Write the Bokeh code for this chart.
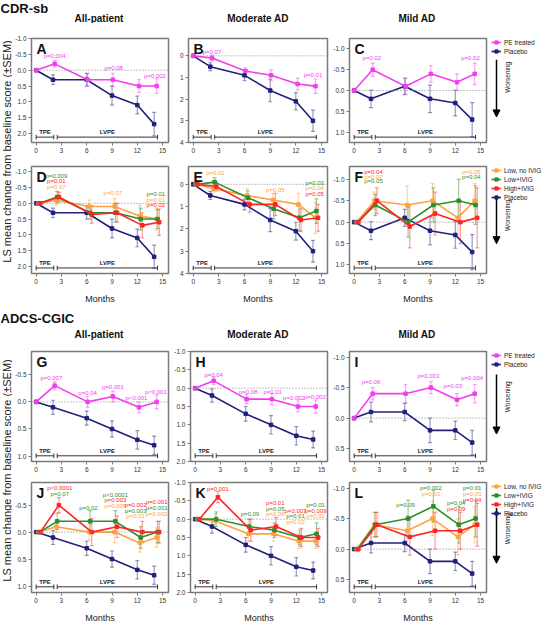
import math
from bokeh.plotting import figure
from bokeh.models import (Range1d, Span, Label, Whisker, TeeHead, ColumnDataSource,
                          FixedTicker, PrintfTickFormatter, Legend, LegendItem, Arrow, NormalHead)
from bokeh.layouts import row, column
from bokeh.embed import file_html
from bokeh.resources import INLINE

# ---------------- data ----------------
months_plc = [0, 2, 6, 9, 12, 14]
months_pe = [0, 2.2, 6.1, 9.1, 12.2, 14.3]
months_lo = [0.3, 2.4, 6.3, 9.3, 12.3, 14.3]
months_li = [0.4, 2.5, 6.4, 9.4, 12.4, 14.4]
months_hi = [0.5, 2.7, 6.6, 9.6, 12.6, 14.6]

# CDR-sb
cdr_all_plc = [0, 0.3, 0.3, 0.8, 1.1, 1.7]
cdr_all_plc_se = [0, 0.15, 0.2, 0.3, 0.28, 0.37]
cdr_all_pe = [0, -0.2, 0.3, 0.3, 0.5, 0.5]
cdr_all_pe_se = [0, 0.1, 0.2, 0.2, 0.2, 0.23]
cdr_all_lo = [0, -0.1, 0.1, 0.1, 0.4, 0.5]
cdr_all_lo_se = [0, 0.15, 0.2, 0.25, 0.35, 0.35]
cdr_all_li = [0, -0.2, 0.3, 0.3, 0.5, 0.5]
cdr_all_li_se = [0, 0.18, 0.2, 0.3, 0.35, 0.3]
cdr_all_hi = [0, -0.2, 0.35, 0.3, 0.7, 0.6]
cdr_all_hi_se = [0, 0.15, 0.28, 0.3, 0.4, 0.42]

cdr_mod_plc = [0, 0.5, 0.9, 1.6, 2.1, 3.0]
cdr_mod_plc_se = [0, 0.18, 0.25, 0.52, 0.4, 0.49]
cdr_mod_pe = [0, 0.1, 0.7, 0.9, 1.3, 1.4]
cdr_mod_pe_se = [0, 0.12, 0.15, 0.25, 0.27, 0.33]
cdr_mod_lo = [0, 0.2, 0.5, 0.7, 0.9, 1.5]
cdr_mod_lo_se = [0, 0.15, 0.3, 0.3, 0.5, 0.7]
cdr_mod_li = [0, -0.1, 0.6, 1.1, 1.5, 1.2]
cdr_mod_li_se = [0, 0.2, 0.3, 0.45, 0.6, 0.55]
cdr_mod_hi = [0, 0.1, 0.9, 0.9, 1.6, 1.5]
cdr_mod_hi_se = [0, 0.2, 0.35, 0.5, 0.5, 0.6]

cdr_mild_plc = [0, 0.2, -0.1, 0.2, 0.3, 0.7]
cdr_mild_plc_se = [0, 0.21, 0.2, 0.33, 0.31, 0.41]
cdr_mild_pe = [0, -0.5, -0.1, -0.4, -0.2, -0.4]
cdr_mild_pe_se = [0, 0.16, 0.19, 0.2, 0.2, 0.26]
cdr_mild_lo = [0, -0.5, -0.4, -0.5, -0.1, -0.5]
cdr_mild_lo_se = [0, 0.2, 0.45, 0.4, 0.4, 0.4]
cdr_mild_li = [0, -0.4, 0.0, -0.4, -0.5, -0.4]
cdr_mild_li_se = [0, 0.25, 0.35, 0.4, 0.5, 0.45]
cdr_mild_hi = [0, -0.5, 0.1, -0.2, 0.0, -0.1]
cdr_mild_hi_se = [0, 0.3, 0.5, 0.5, 0.5, 0.7]

# ADCS-CGIC
cgic_all_plc = [0, 0.1, 0.3, 0.5, 0.7, 0.8]
cgic_all_plc_se = [0, 0.13, 0.13, 0.15, 0.17, 0.17]
cgic_all_pe = [0, -0.3, 0.0, -0.1, 0.1, 0.0]
cgic_all_pe_se = [0, 0.07, 0.1, 0.1, 0.1, 0.13]
cgic_all_lo = [0, -0.1, 0.0, 0.0, 0.2, 0.1]
cgic_all_lo_se = [0, 0.1, 0.15, 0.2, 0.17, 0.18]
cgic_all_li = [0, -0.2, -0.2, -0.2, 0.1, 0.0]
cgic_all_li_se = [0, 0.15, 0.2, 0.2, 0.2, 0.2]
cgic_all_hi = [0, -0.5, 0.0, -0.1, 0.0, 0.0]
cgic_all_hi_se = [0, 0.14, 0.25, 0.2, 0.2, 0.2]

cgic_mod_plc = [0, 0.2, 0.7, 1.0, 1.3, 1.4]
cgic_mod_plc_se = [0, 0.18, 0.2, 0.25, 0.25, 0.23]
cgic_mod_pe = [0, -0.2, 0.3, 0.3, 0.5, 0.5]
cgic_mod_pe_se = [0, 0.1, 0.13, 0.15, 0.15, 0.18]
cgic_mod_lo = [0, 0.05, 0.4, 0.4, 0.6, 0.6]
cgic_mod_lo_se = [0, 0.2, 0.2, 0.2, 0.2, 0.2]
cgic_mod_li = [0, 0.0, 0.2, 0.3, 0.5, 0.4]
cgic_mod_li_se = [0, 0.2, 0.2, 0.2, 0.2, 0.3]
cgic_mod_hi = [0, -0.6, 0.3, 0.2, 0.5, 0.5]
cgic_mod_hi_se = [0, 0.15, 0.3, 0.25, 0.25, 0.25]

cgic_mild_plc = [0, -0.1, -0.1, 0.2, 0.2, 0.4]
cgic_mild_plc_se = [0, 0.16, 0.14, 0.2, 0.15, 0.2]
cgic_mild_pe = [0, -0.4, -0.4, -0.5, -0.3, -0.4]
cgic_mild_pe_se = [0, 0.1, 0.15, 0.1, 0.1, 0.15]
cgic_mild_lo = [0, -0.4, -0.3, -0.5, -0.2, -0.4]
cgic_mild_lo_se = [0, 0.2, 0.25, 0.28, 0.3, 0.3]
cgic_mild_li = [0, -0.4, -0.5, -0.7, -0.4, -0.5]
cgic_mild_li_se = [0, 0.2, 0.3, 0.26, 0.3, 0.3]
cgic_mild_hi = [0, -0.4, -0.2, -0.3, -0.3, -0.4]
cgic_mild_hi_se = [0, 0.2, 0.3, 0.3, 0.3, 0.35]

x_ticks = [0, 3, 6, 9, 12, 15]
period_names = ["TPE", "LVPE"]
period_start = [0, 2.5]
period_end = [2.1, 14.4]

group_names = {"pe": "PE treated", "plc": "Placebo", "lo": "Low, no IVIG",
               "li": "Low+IVIG", "hi": "High+IVIG"}

# p-value annotations: (month, value, text, group)
pv_A = [(2.2, -0.45, "p=0.004", "pe"), (9.2, -0.08, "p=0.08", "pe"), (14.1, 0.17, "p=0.002", "pe")]
pv_B = [(2.2, -0.2, "p=0.07", "pe"), (14.0, 0.9, "p=0.01", "pe")]
pv_C = [(2.1, -0.78, "p=0.02", "pe"), (13.8, -0.78, "p=0.02", "pe")]
pv_D = [(2.4, -0.86, "p=0.009", "li"), (2.4, -0.7, "p=0.01", "hi"), (2.4, -0.53, "p=0.07", "lo"),
        (9.1, -0.34, "p=0.07", "lo"), (14.2, -0.29, "p=0.01", "li"), (14.2, -0.12, "p=0.01", "lo"),
        (14.2, 0.06, "p=0.02", "hi")]
pv_E = [(2.6, -0.5, "p=0.02", "lo"), (9.6, 0.27, "p=0.05", "lo"), (14.2, -0.07, "p=0.03", "li"),
        (14.2, 0.17, "p=0.04", "lo"), (14.2, 0.42, "p=0.05", "hi")]
pv_F = [(2.3, -1.17, "p=0.04", "hi"), (2.3, -1.06, "p=0.07", "lo"), (2.3, -0.95, "p=0.05", "li"),
        (13.9, -1.17, "p=0.05", "lo"), (13.9, -1.05, "p=0.04", "li")]
pv_G = [(1.8, -0.44, "p=0.007", "pe"), (6.1, -0.16, "p=0.04", "pe"), (9.1, -0.27, "p=0.001", "pe"),
        (11.9, -0.07, "p<0.001", "pe"), (14.2, -0.18, "p<0.001", "pe")]
pv_H = [(2.2, -0.37, "p=0.04", "pe"), (6.3, 0.1, "p=0.08", "pe"), (9.2, 0.1, "p=0.01", "pe"),
        (11.7, 0.27, "p=0.002", "pe"), (14.2, 0.23, "p=0.002", "pe")]
pv_I = [(2.0, -0.59, "p=0.06", "pe"), (8.8, -0.69, "p=0.003", "pe"), (11.7, -0.53, "p=0.03", "pe"),
        (14.0, -0.65, "p=0.004", "pe")]
pv_J = [(2.8, -0.82, "p<0.0001", "hi"), (2.8, -0.7, "p=0.07", "li"), (6.2, -0.45, "p=0.02", "li"),
        (9.4, -0.69, "p<0.0001", "li"), (9.4, -0.59, "p=0.003", "hi"), (9.4, -0.48, "p=0.005", "lo"),
        (11.8, -0.5, "p=0.002", "hi"), (11.8, -0.4, "p=0.003", "li"), (11.8, -0.3, "p=0.01", "lo"),
        (14.3, -0.56, "p=0.001", "hi"), (14.3, -0.45, "p=0.001", "li"), (14.3, -0.34, "p=0.002", "lo")]
pv_K = [(2.7, -0.83, "p=0.001", "hi"), (6.5, -0.15, "p=0.09", "li"), (9.5, -0.45, "p=0.01", "hi"),
        (9.5, -0.29, "p=0.05", "li"), (9.5, -0.13, "p=0.06", "lo"), (11.9, -0.23, "p=0.007", "hi"),
        (11.9, -0.08, "p=0.01", "li"), (11.9, 0.07, "p=0.02", "lo"), (14.3, -0.39, "p=0.01", "li"),
        (14.3, -0.23, "p=0.009", "hi"), (14.3, -0.08, "p=0.02", "lo")]
pv_L = [(6.1, -0.73, "p=0.09", "li"), (9.1, -1.0, "p=0.002", "li"), (9.1, -0.9, "p=0.03", "lo"),
        (12.1, -0.75, "p=0.04", "li"), (12.1, -0.66, "p=0.09", "hi"), (14.0, -1.0, "p=0.01", "li"),
        (14.0, -0.9, "p=0.03", "lo"), (14.0, -0.81, "p=0.04", "hi")]

# ---------------- style / layout ----------------
FONT = "Liberation Sans"
COLORS = {"pe": "#f43cee", "plc": "#20207c", "lo": "#ffa23e", "li": "#2a8f2a", "hi": "#ff2323"}
FRAME_C = "#7a7a7a"
YLW = 12          # y-label strip
BL, BR = 17, 3
FW = 139
PW = BL + FW + BR
LW = 544 - YLW - 3 * PW
FH = 116
BT1, BB1 = 3, 14
BT2, BB2 = 4, 30
H1 = BT1 + FH + BB1
H2 = BT2 + FH + BB2
HEAD1, HEAD2 = 23, 36
XMIN, XMAX = -0.55, 15.7
NAN = float("nan")


def blank(w, h, **kw):
    f = figure(width=w, height=h, x_range=Range1d(0, w), y_range=Range1d(0, h),
               x_axis_type=None, y_axis_type=None, toolbar_location=None,
               output_backend="svg", min_border=0, **kw)
    f.grid.visible = False
    f.outline_line_color = None
    return f


def panel(letter, ylim, yticks, yfmt, series, pvals, second):
    top_v, bot_v = ylim
    bt, bb = (BT2, BB2) if second else (BT1, BB1)
    p = figure(width=PW, height=bt + FH + bb, x_range=Range1d(XMIN, XMAX),
               y_range=Range1d(bot_v, top_v), toolbar_location=None, output_backend="svg",
               min_border_left=BL, min_border_right=BR, min_border_top=bt, min_border_bottom=bb)
    p.grid.visible = False
    p.outline_line_color = FRAME_C
    p.outline_line_width = 1.5
    ppx = FW / (XMAX - XMIN)
    ppy = FH / (bot_v - top_v)
    p.xaxis.ticker = FixedTicker(ticks=x_ticks)
    p.yaxis.ticker = FixedTicker(ticks=yticks)
    p.yaxis.formatter = PrintfTickFormatter(format=yfmt)
    for ax in (p.xaxis[0], p.yaxis[0]):
        ax.axis_line_color = FRAME_C
        ax.axis_line_width = 1
        ax.major_tick_line_color = FRAME_C
        ax.major_tick_out = 3
        ax.major_tick_in = 0
        ax.minor_tick_line_color = None
        ax.major_label_text_font = FONT
        ax.major_label_text_font_size = "6.5px"
        ax.major_label_text_color = "#333333"
        ax.major_label_standoff = 2
    if second:
        p.xaxis.axis_label = "Months"
        p.xaxis.axis_label_text_font = FONT
        p.xaxis.axis_label_text_font_size = "9px"
        p.xaxis.axis_label_text_font_style = "normal"
        p.xaxis.axis_label_text_color = "#222222"
        p.xaxis.axis_label_standoff = 7
    p.add_layout(Span(location=0, dimension="width", line_color="#888888",
                      line_dash="1 2", line_width=1))
    # treatment period brackets
    yb = bot_v - 6 / ppy
    tk = 2.5 / ppy
    for name, a, b in zip(period_names, period_start, period_end):
        p.segment(x0=[a, a, b], y0=[yb, yb - tk, yb - tk], x1=[b, a, b], y1=[yb, yb + tk, yb + tk],
                  line_color="#333333", line_width=1)
        p.add_layout(Label(x=(a + b) / 2, y=yb - 2 / ppy, text=name, text_align="center",
                           text_baseline="bottom", text_font=FONT, text_font_size="6px",
                           text_font_style="bold", text_color="#222222"))
    for key, xs, ys, es in series:
        c = COLORS[key]
        wx = [x for x, e in zip(xs, es) if e > 0]
        wlo = [y - e for y, e in zip(ys, es) if e > 0]
        whi = [y + e for y, e in zip(ys, es) if e > 0]
        wsrc = ColumnDataSource(dict(x=wx, lo=wlo, hi=whi))
        p.add_layout(Whisker(source=wsrc, base="x", upper="hi", lower="lo", dimension="height",
                             line_color=c, line_alpha=0.45, line_width=1.2,
                             upper_head=TeeHead(size=4, line_color=c, line_alpha=0.45, line_width=1.2),
                             lower_head=TeeHead(size=4, line_color=c, line_alpha=0.45, line_width=1.2)))
    for key, xs, ys, es in series:
        c = COLORS[key]
        src = ColumnDataSource(dict(x=xs, y=ys))
        p.line("x", "y", source=src, line_color=c, line_width=1.6)
        p.scatter("x", "y", source=src, marker="square", size=3.5, fill_color=c, line_color=c)
    for x, y, t, key in pvals:
        p.add_layout(Label(x=x, y=y, text=t, text_align="center", text_baseline="middle",
                           text_font=FONT, text_font_size="6px", text_color=COLORS[key]))
    p.add_layout(Label(x=XMIN + 5 / ppx, y=top_v + 3 / ppy, text=letter, text_align="left",
                       text_baseline="top", text_font=FONT, text_font_size="14px",
                       text_font_style="bold", text_color="#111111"))
    return p


def legend_fig(height, mt, keys, bt, a0, a1, td):
    lf = figure(width=LW, height=height, x_range=Range1d(0, LW - 2), y_range=Range1d(0, height - mt),
                x_axis_type=None, y_axis_type=None, toolbar_location=None, output_backend="svg",
                min_border_left=2, min_border_right=0, min_border_top=mt, min_border_bottom=0)
    lf.grid.visible = False
    lf.outline_line_color = None
    items = []
    for k in keys:
        src = ColumnDataSource(dict(x=[NAN], y=[NAN]))
        r1 = lf.line("x", "y", source=src, line_color=COLORS[k], line_width=1.6)
        r2 = lf.scatter("x", "y", source=src, marker="square", size=3.5,
                        fill_color=COLORS[k], line_color=COLORS[k])
        items.append(LegendItem(label=group_names[k], renderers=[r1, r2]))
    leg = Legend(items=items, location="top_left", margin=0, padding=0, spacing=1,
                 glyph_width=10, glyph_height=8, label_height=8, label_standoff=3,
                 label_text_font=FONT, label_text_font_size="6.5px", label_text_color="#222222",
                 border_line_color=None, background_fill_alpha=0)
    lf.add_layout(leg)
    hf = height - mt
    ax_x = 5
    lf.add_layout(Arrow(end=NormalHead(size=7, fill_color="black", line_color="black"),
                        x_start=ax_x, y_start=hf - (bt + a0 - mt), x_end=ax_x, y_end=hf - (bt + a1 - mt),
                        line_color="black", line_width=1.5))
    lf.add_layout(Label(x=ax_x + 11, y=hf - (bt + td - mt), text="Worsening", angle=math.pi / 2,
                        text_align="center", text_baseline="middle", text_font=FONT,
                        text_font_size="6.5px", text_color="#222222"))
    return lf


def header(h, title, ty, hy):
    f = blank(544, h)
    f.add_layout(Label(x=0, y=ty, text=title, text_baseline="top", text_font=FONT,
                       text_font_size="13px", text_font_style="bold", text_color="#111111"))
    for i, t in enumerate(["All-patient", "Moderate AD", "Mild AD"]):
        cx = YLW + i * PW + BL + FW / 2
        f.add_layout(Label(x=cx, y=hy, text=t, text_align="center", text_baseline="middle",
                           text_font=FONT, text_font_size="10px", text_font_style="bold",
                           text_color="#111111"))
    return f


def ylab():
    h = H1 + H2
    f = blank(YLW, h)
    center_from_top = (BT1 + (H1 + BT2 + FH)) / 2
    f.add_layout(Label(x=YLW / 2, y=h - center_from_top,
                       text="LS mean change from baseline score (\u00b1SEM)", angle=math.pi / 2,
                       text_align="center", text_baseline="middle", text_font=FONT,
                       text_font_size="11px", text_color="#222222"))
    return f


def pair(plc, plc_se, pe, pe_se):
    return [("plc", months_plc, plc, plc_se), ("pe", months_pe, pe, pe_se)]


def quad(plc, plc_se, lo, lo_se, li, li_se, hi, hi_se):
    return [("plc", months_plc, plc, plc_se), ("lo", months_lo, lo, lo_se),
            ("li", months_li, li, li_se), ("hi", months_hi, hi, hi_se)]


t_a = [-1.0, -0.5, 0.0, 0.5, 1.0, 1.5, 2.0]
t_b = [0, 1, 2, 3, 4]
t_c = [-1.0, -0.5, 0.0, 0.5, 1.0]
t_g = [-0.5, 0.0, 0.5, 1.0]
t_i = [-1.0, -0.5, 0.0, 0.5]

pA = panel("A", (-1.0, 2.28), t_a, "%.1f",
           pair(cdr_all_plc, cdr_all_plc_se, cdr_all_pe, cdr_all_pe_se), pv_A, False)
pB = panel("B", (-0.8, 4.0), t_b, "%d",
           pair(cdr_mod_plc, cdr_mod_plc_se, cdr_mod_pe, cdr_mod_pe_se), pv_B, False)
pC = panel("C", (-1.25, 1.25), t_c, "%.1f",
           pair(cdr_mild_plc, cdr_mild_plc_se, cdr_mild_pe, cdr_mild_pe_se), pv_C, False)
pD = panel("D", (-1.17, 2.23), t_a, "%.1f",
           quad(cdr_all_plc, cdr_all_plc_se, cdr_all_lo, cdr_all_lo_se, cdr_all_li, cdr_all_li_se,
                cdr_all_hi, cdr_all_hi_se), pv_D, True)
pE = panel("E", (-0.8, 4.0), t_b, "%d",
           quad(cdr_mod_plc, cdr_mod_plc_se, cdr_mod_lo, cdr_mod_lo_se, cdr_mod_li, cdr_mod_li_se,
                cdr_mod_hi, cdr_mod_hi_se), pv_E, True)
pF = panel("F", (-1.3, 1.2), t_c, "%.1f",
           quad(cdr_mild_plc, cdr_mild_plc_se, cdr_mild_lo, cdr_mild_lo_se, cdr_mild_li, cdr_mild_li_se,
                cdr_mild_hi, cdr_mild_hi_se), pv_F, True)
pG = panel("G", (-0.93, 1.1), t_g, "%.1f",
           pair(cgic_all_plc, cgic_all_plc_se, cgic_all_pe, cgic_all_pe_se), pv_G, False)
pH = panel("H", (-1.0, 2.0), t_a, "%.1f",
           pair(cgic_mod_plc, cgic_mod_plc_se, cgic_mod_pe, cgic_mod_pe_se), pv_H, False)
pI = panel("I", (-1.09, 0.71), t_i, "%.1f",
           pair(cgic_mild_plc, cgic_mild_plc_se, cgic_mild_pe, cgic_mild_pe_se), pv_I, False)
pJ = panel("J", (-0.92, 1.12), t_g, "%.1f",
           quad(cgic_all_plc, cgic_all_plc_se, cgic_all_lo, cgic_all_lo_se, cgic_all_li, cgic_all_li_se,
                cgic_all_hi, cgic_all_hi_se), pv_J, True)
pK = panel("K", (-1.0, 2.0), t_a, "%.1f",
           quad(cgic_mod_plc, cgic_mod_plc_se, cgic_mod_lo, cgic_mod_lo_se, cgic_mod_li, cgic_mod_li_se,
                cgic_mod_hi, cgic_mod_hi_se), pv_K, True)
pL = panel("L", (-1.09, 0.71), t_i, "%.1f",
           quad(cgic_mild_plc, cgic_mild_plc_se, cgic_mild_lo, cgic_mild_lo_se, cgic_mild_li, cgic_mild_li_se,
                cgic_mild_hi, cgic_mild_hi_se), pv_L, True)

two = ["pe", "plc"]
four = ["lo", "li", "hi", "plc"]
leg1 = legend_fig(H1, 15, two, BT1, 36, 101, 56)
leg2 = legend_fig(H2, 10, four, BT2, 45, 107, 70)
leg3 = legend_fig(H1, 9, two, BT1, 32, 99, 57)
leg4 = legend_fig(H2, 7, four, BT2, 36, 108, 63)

sec1 = row(ylab(), column(row(pA, pB, pC, leg1), row(pD, pE, pF, leg2)))
sec2 = row(ylab(), column(row(pG, pH, pI, leg3), row(pJ, pK, pL, leg4)))
layout = column(header(HEAD1, "CDR-sb", HEAD1, 5), sec1, header(HEAD2, "ADCS-CGIC", HEAD2 - 4, 8), sec2)

open("out.html", "w").write(file_html(layout, INLINE))
